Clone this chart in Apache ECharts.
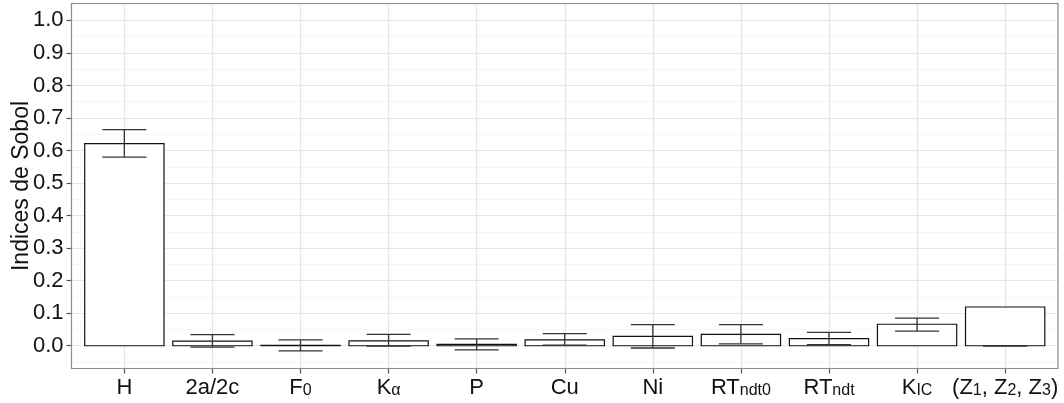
<!DOCTYPE html>
<html>
<head>
<meta charset="utf-8">
<script src="https://cdn.jsdelivr.net/npm/echarts@6/dist/echarts.min.js"></script>
<style>
html,body{margin:0;padding:0;background:#fff;}
#c{width:1064px;height:403px;}
</style>
</head>
<body>
<div id="c"></div>
<script>
// ---- data ----
const categories = ['H', '2a/2c', 'F{s|0}', 'K{s|α}', 'P', 'Cu', 'Ni', 'RT{s|ndt0}', 'RT{s|ndt}', 'K{s|IC}', '(Z{s|1}, Z{s|2}, Z{s|3})'];
const sobol   = [0.621, 0.014, 0.001, 0.015, 0.004, 0.018, 0.029, 0.035, 0.022, 0.066, 0.119];
const errLow  = [0.580, -0.004, -0.016, -0.001, -0.013, 0.002, -0.007, 0.006, 0.003, 0.045, 0.000];
const errHigh = [0.664, 0.034, 0.018, 0.035, 0.021, 0.037, 0.065, 0.065, 0.041, 0.085, 0.000];
const yTicks = [0.0, 0.1, 0.2, 0.3, 0.4, 0.5, 0.6, 0.7, 0.8, 0.9, 1.0];
const xTicks = categories.map((c, i) => i);

const FONT = "'Liberation Sans', Arial, Helvetica, sans-serif";
const barData = sobol.map((v, i) => [i, v]);
const errData = sobol.map((v, i) => [i, errLow[i], errHigh[i]]);

const chart = echarts.init(document.getElementById('c'), null, {renderer: 'canvas'});
chart.setOption({
  animation: false,
  backgroundColor: '#ffffff',
  grid: {left: 71.5, right: 6, top: 3.5, bottom: 34.5, show: true, containLabel: false,
         outerBoundsMode: 'none',
         borderColor: '#8c8c8c', borderWidth: 1.2, backgroundColor: 'transparent', z: 3},
  xAxis: {
    type: 'value', min: -0.6, max: 10.6, minInterval: 1, maxInterval: 1,
    axisLine: {show: false, onZero: false},
    axisTick: {show: true, length: 5, customValues: xTicks, lineStyle: {color: '#555', width: 1.2}},
    splitLine: {show: true, lineStyle: {color: '#e6e6e6', width: 1.2}},
    axisLabel: {
      customValues: xTicks, margin: 8, fontSize: 22, lineHeight: 22, color: '#111', fontFamily: FONT,
      hideOverlap: false,
      formatter: v => categories[Math.round(v)],
      rich: {s: {fontSize: 16, lineHeight: 2, verticalAlign: 'bottom', color: '#111', fontFamily: FONT}}
    }
  },
  yAxis: [{
    type: 'value', min: -0.07, max: 1.052, minInterval: 0.1, maxInterval: 0.1,
    name: 'Indices de Sobol', nameLocation: 'middle', nameGap: 38, nameMoveOverlap: false,
    nameTextStyle: {fontSize: 23, color: '#111', fontFamily: FONT},
    axisLine: {show: false, onZero: false},
    axisTick: {show: true, length: 5, customValues: yTicks, lineStyle: {color: '#555', width: 1.2}},
    splitLine: {show: true, lineStyle: {color: '#e6e6e6', width: 1.2}},
    axisLabel: {customValues: yTicks, margin: 8, fontSize: 22, color: '#111', fontFamily: FONT,
      formatter: v => v.toFixed(1)}
  }, {
    type: 'value', min: -0.07, max: 1.052, minInterval: 0.05, maxInterval: 0.05, z: -1,
    position: 'left',
    axisLine: {show: false, onZero: false}, axisTick: {show: false}, axisLabel: {show: false},
    splitLine: {show: true, lineStyle: {color: '#f3f3f3', width: 0.8}}
  }],
  series: [{
    type: 'custom', xAxisIndex: 0, yAxisIndex: 0,
    data: barData,
    renderItem: (params, api) => {
      const x = api.value(0), v = api.value(1);
      const p1 = api.coord([x - 0.45, v]);
      const p2 = api.coord([x + 0.45, 0]);
      return {type: 'rect', shape: {x: p1[0], y: Math.min(p1[1], p2[1]), width: p2[0] - p1[0], height: Math.abs(p2[1] - p1[1])},
        style: {fill: '#ffffff', stroke: '#111', lineWidth: 1.2}};
    }
  }, {
    type: 'custom', xAxisIndex: 0, yAxisIndex: 0,
    data: errData, z: 3,
    renderItem: (params, api) => {
      const x = api.value(0), lo = api.value(1), hi = api.value(2);
      const a = api.coord([x - 0.25, hi]), b = api.coord([x + 0.25, hi]);
      const c = api.coord([x - 0.25, lo]), d = api.coord([x + 0.25, lo]);
      const m1 = api.coord([x, hi]), m2 = api.coord([x, lo]);
      const st = {stroke: '#333', lineWidth: 1.3};
      return {type: 'group', children: [
        {type: 'line', shape: {x1: a[0], y1: a[1], x2: b[0], y2: b[1]}, style: st},
        {type: 'line', shape: {x1: c[0], y1: c[1], x2: d[0], y2: d[1]}, style: st},
        {type: 'line', shape: {x1: m1[0], y1: m1[1], x2: m2[0], y2: m2[1]}, style: st}
      ]};
    }
  }]
});
</script>
</body>
</html>
